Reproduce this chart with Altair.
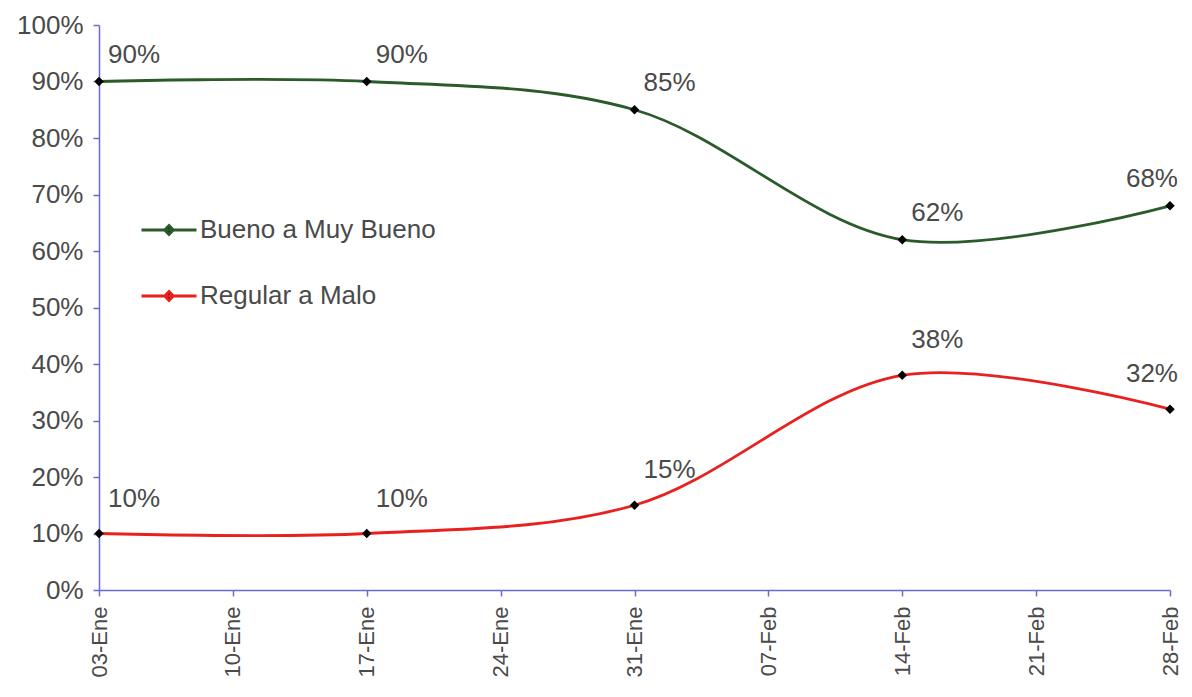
import json
import altair as alt
import pandas as pd

# ---- data ----
fechas = ["2009-01-03", "2009-01-17", "2009-01-31", "2009-02-14", "2009-02-28"]
series = ["Bueno a Muy Bueno", "Regular a Malo"]
bueno = [90, 90, 85, 62, 68]
regular = [10, 10, 15, 38, 32]
colores = ["#2b5a2b", "#e8201e"]
tick_fechas = ["2009-01-03", "2009-01-10", "2009-01-17", "2009-01-24", "2009-01-31",
               "2009-02-07", "2009-02-14", "2009-02-21", "2009-02-28"]
tick_labels = ["03-Ene", "10-Ene", "17-Ene", "24-Ene", "31-Ene",
               "07-Feb", "14-Feb", "21-Feb", "28-Feb"]
y_ticks = [0, 10, 20, 30, 40, 50, 60, 70, 80, 90, 100]

t0 = pd.Timestamp(tick_fechas[0])
def dia(s):
    return int((pd.Timestamp(s) - t0).days)

tick_dias = [dia(s) for s in tick_fechas]

rows = []
for serie, vals in zip(series, [bueno, regular]):
    for i, (f, v) in enumerate(zip(fechas, vals)):
        rows.append({"serie": serie, "dia": dia(f), "valor": v,
                     "etiqueta": f"{v}%", "ultimo": i == len(fechas) - 1})
df = pd.DataFrame(rows)

FONT = "Liberation Sans"
FS = 26
AXIS_COLOR = "#6a6ad2"
TEXT_COLOR = "#4a4a4a"

label_map = json.dumps(tick_labels)
x_enc = alt.X("dia:Q",
              scale=alt.Scale(domain=[tick_dias[0], tick_dias[-1]], nice=False, zero=False),
              axis=alt.Axis(values=tick_dias,
                            labelExpr=f"{label_map}[round(datum.value / 7)]",
                            labelAngle=270, title=None, grid=False,
                            labelFontSize=22, labelPadding=10, tickSize=6))
y_enc = alt.Y("valor:Q",
              scale=alt.Scale(domain=[0, 100], nice=False),
              axis=alt.Axis(values=y_ticks, labelExpr="datum.value + '%'",
                            title=None, grid=False, labelPadding=10, tickSize=6))

base = alt.Chart(df)

line = base.mark_line(interpolate="catmull-rom", strokeWidth=2.8).encode(
    x=x_enc, y=y_enc,
    color=alt.Color("serie:N", scale=alt.Scale(domain=series, range=colores),
                    legend=alt.Legend(title=None, orient="none", legendX=41, legendY=176,
                                      symbolType="M-1,0L1,0M-0.16,0L0,-0.16L0.16,0L0,0.16Z",
                                      symbolSize=3025, symbolStrokeWidth=2.8,
                                      symbolFillColor="black",
                                      labelFontSize=FS, labelFont=FONT, labelLimit=0,
                                      labelColor=TEXT_COLOR, labelOffset=2,
                                      rowPadding=24, padding=0)),
)

points = base.mark_point(shape="diamond", filled=True, color="black", size=90, opacity=1).encode(
    x=x_enc, y=y_enc, detail="serie:N")

layers = [line, points]
dys = {series[0]: -27, series[1]: -35}
for serie in series:
    for last in [False, True]:
        sub = base.transform_filter(
            (alt.datum.serie == serie) & (alt.datum.ultimo == last)
        ).mark_text(
            align="right" if last else "left",
            dx=8 if last else 9,
            dy=dys[serie],
            fontSize=FS, font=FONT, color=TEXT_COLOR,
        ).encode(x=x_enc, y=y_enc, text="etiqueta:N")
        layers.append(sub)

chart = alt.layer(*layers).properties(
    width=1071, height=565,
    autosize=alt.AutoSizeParams(type="none"),
    padding={"left": 91, "top": 17, "right": 14, "bottom": 94},
    background="white",
).configure_view(stroke=None).configure_axis(
    domainColor=AXIS_COLOR, tickColor=AXIS_COLOR, domainWidth=1.5, tickWidth=1.5,
    labelFont=FONT, labelFontSize=FS, labelColor=TEXT_COLOR,
)

chart.save("out.html", embed_options={"renderer": "svg", "actions": False})
